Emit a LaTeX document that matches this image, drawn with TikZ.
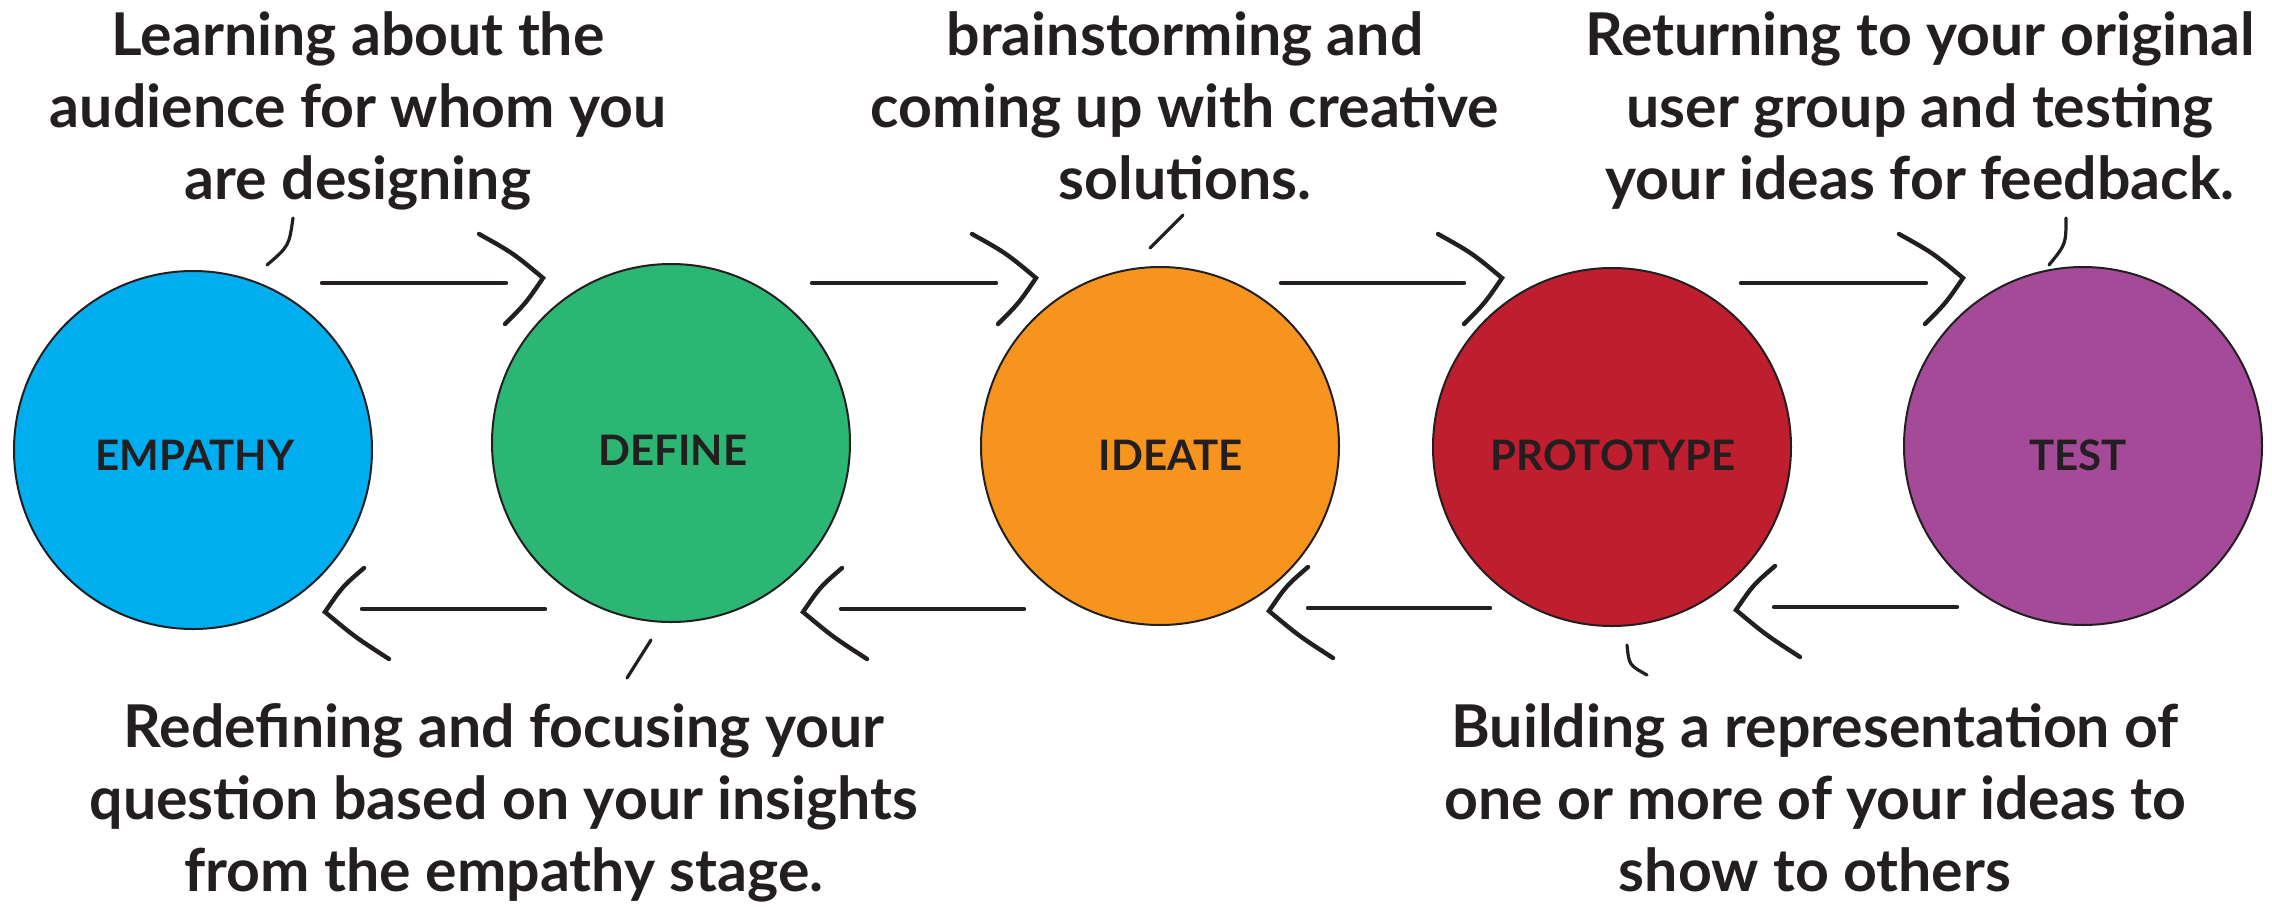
\documentclass[tikz,border=0pt]{standalone}
\usepackage{fontspec}
\setmainfont{Lato}
\usetikzlibrary{calc}
\definecolor{ink}{HTML}{231F20}
\definecolor{cE}{HTML}{00AEEF}
\definecolor{cD}{HTML}{2BB673}
\definecolor{cI}{HTML}{F7941E}
\definecolor{cP}{HTML}{BE1E2D}
\definecolor{cT}{HTML}{A54A98}
\tikzset{
  stage/.style={circle, draw=ink, line width=1pt, minimum size=179pt, inner sep=0pt},
  lab/.style={font=\bfseries\fontsize{21}{25}\selectfont, text=ink, inner sep=0pt},
  note/.style={font=\bfseries\fontsize{29.5}{36}\selectfont, text=ink, align=center, inner sep=0pt, anchor=north},
  flow/.style={draw=ink, line width=2.2pt, line cap=round, line join=miter},
  tick/.style={draw=ink, line width=1.6pt, line cap=round},
  fwdhead/.pic={\draw[flow] (-64,-44) .. controls (-30,-25) .. (0,0) .. controls (-17,25) .. (-38,46);},
  backhead/.pic={\draw[flow] (39,-44) .. controls (17,-25) .. (0,0) .. controls (30,25) .. (64,47);}
}
\begin{document}
\begin{tikzpicture}[x=0.5pt,y=-0.5pt]
\useasboundingbox (0,0) rectangle (2272,906);
\fill[white] (0,0) rectangle (2272,906);

% stages
\node[stage, fill=cE] (e) at (193,450) {};
\node[stage, fill=cD] (d) at (671,443) {};
\node[stage, fill=cI] (i) at (1160,446) {};
\node[stage, fill=cP] (p) at (1612,447) {};
\node[stage, fill=cT] (t) at (2083,446) {};
\node[lab] (el) at (195,455) {EMPATHY};
\node[lab] (dl) at (673,450) {DEFINE};
\node[lab] (il) at (1171,455) {IDEATE};
\node[lab] (pl) at (1613,455) {PROTOTYPE};
\node[lab] (tl) at (2078,455) {TEST};

% notes
\node[note] (ne) at (358,11) {Learning about the\\audience for whom you\\are designing};
\node[note] (ni) at (1185,11) {brainstorming and\\coming up with creative\\solutions.};
\node[note] (nt) at (1920,11) {Returning to your original\\user group and testing\\your ideas for feedback.};
\node[note] (nd) at (504,703) {Redefining and focusing your\\question based on your insights\\from the empathy stage.};
\node[note] (np) at (1815,703) {Building a representation of\\one or more of your ideas to\\show to others};

% forward arrows
\coordinate (f1a) at (322,283); \coordinate (f1b) at (506,283); \coordinate (f1h) at (543,278);
\coordinate (f2a) at (812,283); \coordinate (f2b) at (996,283); \coordinate (f2h) at (1036,278);
\coordinate (f3a) at (1281,283); \coordinate (f3b) at (1464,283); \coordinate (f3h) at (1502,278);
\coordinate (f4a) at (1741,283); \coordinate (f4b) at (1926,283); \coordinate (f4h) at (1963,278);
\foreach \k in {1,2,3,4}{
  \draw[flow] (f\k a) -- (f\k b);
  \pic at (f\k h) {fwdhead};
}
% backward arrows
\coordinate (b1a) at (545,609); \coordinate (b1b) at (362,609); \coordinate (b1h) at (325,612);
\coordinate (b2a) at (1024,609); \coordinate (b2b) at (841,609); \coordinate (b2h) at (803,612);
\coordinate (b3a) at (1490,608); \coordinate (b3b) at (1308,608); \coordinate (b3h) at (1269,611);
\coordinate (b4a) at (1957,607); \coordinate (b4b) at (1774,607); \coordinate (b4h) at (1736,610);
\foreach \k in {1,2,3,4}{
  \draw[flow] (b\k a) -- (b\k b);
  \pic at (b\k h) {backhead};
}

% callout ticks
\coordinate (te1) at (293,218); \coordinate (te2) at (267,265);
\coordinate (ti1) at (1183,215); \coordinate (ti2) at (1150,248);
\coordinate (tt1) at (2066,218); \coordinate (tt2) at (2049,265);
\coordinate (td1) at (651,640); \coordinate (td2) at (627,678);
\coordinate (tp1) at (1627,645); \coordinate (tp2) at (1647,675);
\draw[tick] (te1) .. controls (289,246) .. (te2);
\draw[tick] (ti1) -- (ti2);
\draw[tick] (tt1) .. controls (2066,244) .. (tt2);
\draw[tick] (td1) -- (td2);
\draw[tick] (tp1) .. controls (1629,665) .. (tp2);
\end{tikzpicture}
\end{document}
